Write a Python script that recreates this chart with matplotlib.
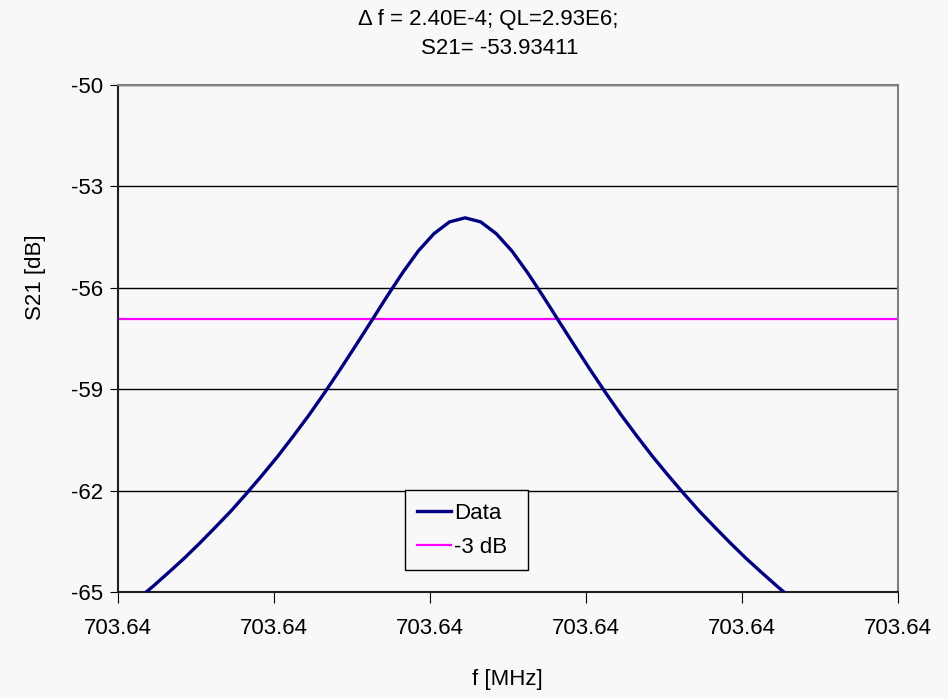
""" Resonance curve of S21 around 703.64 MHz, Excel style. """
import matplotlib
matplotlib.use("Agg")
import matplotlib.pyplot as plt
import numpy as np

plt.rcParams['font.family'] = ['Liberation Sans', 'DejaVu Sans']
plt.rcParams['axes.unicode_minus'] = False

# frequency offsets (Hz) from the left axis limit 703.6396 MHz
f_start_mhz = 703.6396
f_offset_hz = [25, 45, 65, 85, 105, 125, 145, 165, 185, 205, 225,
               245, 265, 285, 305, 325, 345, 365, 385, 405, 425,
               445,
               465, 485, 505, 525, 545, 565, 585, 605, 625, 645,
               665, 685, 705, 725, 745, 765, 785, 805, 825, 845, 865]
s21_db = [-65.22, -64.83, -64.42, -64.00, -63.55, -63.08, -62.60, -62.08,
          -61.54, -60.98, -60.38, -59.76, -59.10, -58.41, -57.70, -56.98,
          -56.25, -55.55, -54.91, -54.40, -54.05,
          -53.93,
          -54.05, -54.40, -54.91, -55.55, -56.25, -56.98, -57.70, -58.41,
          -59.10, -59.76, -60.38, -60.98, -61.54, -62.08, -62.60, -63.08,
          -63.55, -64.00, -64.42, -64.83, -65.22]
s21_peak = -53.93411
title_lines = ["\u0394 f = 2.40E-4; QL=2.93E6;", "S21= -53.93411"]
x_ticks = [703.6396, 703.6398, 703.6400, 703.6402, 703.6404, 703.6406]
y_ticks = [-50, -53, -56, -59, -62, -65]

freq = f_start_mhz + np.array(f_offset_hz) * 1e-6
bg = '#F8F8F8'
fs = 16

fig = plt.figure(figsize=(9.48, 6.98), dpi=100, facecolor=bg)
ax = fig.add_axes([118 / 948, 1 - 592 / 698, 780 / 948, 507 / 698])
ax.set_facecolor(bg)

ax.plot(freq, s21_db, color='#000080', linewidth=2.4, label='Data',
        solid_joinstyle='round', zorder=3)
ax.axhline(s21_peak - 3, color='#FF00FF', linewidth=1.6, label='-3 dB', zorder=2)

ax.set_xlim(x_ticks[0], x_ticks[-1])
ax.set_ylim(-65, -50)
ax.set_xticks(x_ticks)
ax.set_xticklabels([f"{t:.2f}" for t in x_ticks])
ax.set_yticks(y_ticks)
ax.grid(axis='y', color='black', linewidth=1.0, zorder=1)
ax.tick_params(axis='both', labelsize=fs, direction='out', color='black')
ax.tick_params(axis='y', length=6, pad=5)
ax.tick_params(axis='x', length=8, pad=11)

for side in ('top', 'right'):
    ax.spines[side].set_color('#808080')
    ax.spines[side].set_linewidth(1.5)
for side in ('left', 'bottom'):
    ax.spines[side].set_color('#202020')
    ax.spines[side].set_linewidth(1.5)

leg = ax.legend(loc='lower left', bbox_to_anchor=(0.368, 0.043, 0.157, 0.158),
                mode='expand', fontsize=fs, frameon=True, fancybox=False,
                handlelength=1.5, handletextpad=0.15, borderpad=0.55,
                labelspacing=0.6, borderaxespad=0)
leg.get_frame().set_edgecolor('black')
leg.get_frame().set_linewidth(1.0)
leg.get_frame().set_facecolor(bg)
leg.get_frame().set_alpha(1)

fig.text(488 / 948, 1 - 19 / 698, title_lines[0], ha='center', va='center', fontsize=fs)
fig.text(500 / 948, 1 - 48 / 698, title_lines[1], ha='center', va='center', fontsize=fs)
fig.text(507 / 948, 1 - 680 / 698, "f [MHz]", ha='center', va='center', fontsize=fs)
fig.text(35 / 948, 1 - 277 / 698, "S21 [dB]", ha='center', va='center',
         rotation=90, fontsize=fs)

fig.savefig('out.png', dpi=100, facecolor=bg)
